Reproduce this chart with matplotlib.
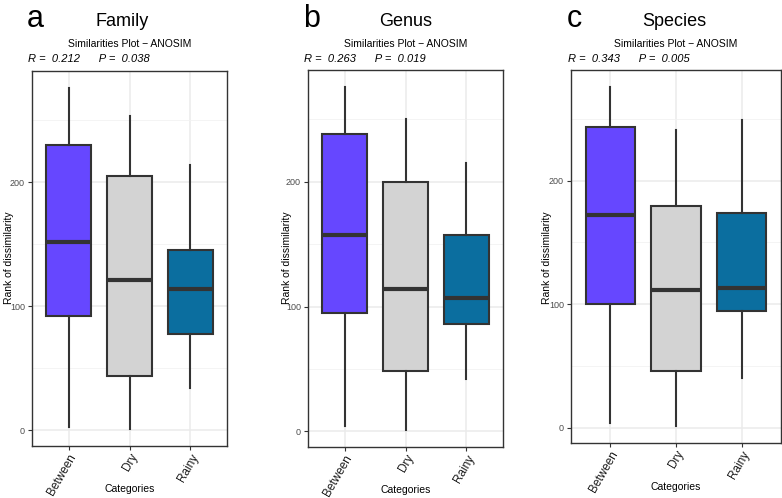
import numpy as np
import matplotlib
matplotlib.use("Agg")
from matplotlib import pyplot as plt

plt.rcParams['font.family'] = ['Liberation Sans', 'DejaVu Sans']

categories = ['Between', 'Dry', 'Rainy']
box_colors = ['#6647FF', '#D3D3D3', '#0B6E9F']

panel_letters = ['a', 'b', 'c']
panel_titles = ['Family', 'Genus', 'Species']
r_values = ['0.212', '0.263', '0.343']
p_values = ['0.038', '0.019', '0.005']

# per panel: [whislo, q1, med, q3, whishi] for Between, Dry, Rainy
family_stats = [[3, 92, 152, 230, 276], [1, 44, 121, 205, 253], [34, 78, 114, 145, 214]]
genus_stats = [[4, 95, 157, 238, 276], [1, 48, 114, 200, 250], [42, 86, 107, 157, 215]]
species_stats = [[4, 100, 172, 243, 276], [1, 46, 111, 179, 241], [40, 94, 113, 174, 249]]
all_stats = [family_stats, genus_stats, species_stats]

W, H = 782, 498
# axes boxes in pixels: left, right, top, bottom
ax_px = [(32, 227, 71, 446), (308, 503, 70, 447), (571, 781, 70, 443)]
title_x = [122, 406, 674]
letter_x = [27, 303, 567]
ylabel_x = [9, 287, 547]
xlabel_y = [489, 490, 487]

fig = plt.figure(figsize=(W / 100, H / 100), dpi=100)

for i in range(3):
    l, r, t, b = ax_px[i]
    ax = fig.add_axes([l / W, 1 - b / H, (r - l) / W, (b - t) / H])
    stats = []
    for j, s in enumerate(all_stats[i]):
        stats.append(dict(whislo=s[0], q1=s[1], med=s[2], q3=s[3], whishi=s[4], fliers=[], label=categories[j]))
    bp = ax.bxp(stats, positions=[1, 2, 3], widths=0.75, patch_artist=True, showcaps=False,
                boxprops=dict(edgecolor='#333333', linewidth=1.5),
                whiskerprops=dict(color='#333333', linewidth=1.5),
                medianprops=dict(color='#333333', linewidth=3), zorder=3)
    for patch, c in zip(bp['boxes'], box_colors):
        patch.set_facecolor(c)

    ax.set_xlim(0.4, 3.6)
    ax.set_ylim(-12.5, 289.5)
    ax.set_yticks([0, 100, 200])
    ax.set_yticks([50, 150, 250], minor=True)
    ax.grid(True, which='major', color='#EBEBEB', linewidth=1.1, zorder=0)
    ax.grid(True, which='minor', axis='y', color='#F2F2F2', linewidth=0.6, zorder=0)
    ax.set_axisbelow(True)
    ax.tick_params(which='minor', length=0)
    ax.tick_params(which='major', length=3, color='#333333', width=0.8, labelsize=6.5,
                   labelcolor='#4D4D4D', pad=2)
    ax.tick_params(axis='x', pad=1)
    ax.set_xticks([1, 2, 3])
    ax.set_xticklabels(categories, rotation=60, ha='right', va='top', rotation_mode='anchor',
                       fontsize=8.5, color='#1A1A1A')
    for sp in ax.spines.values():
        sp.set_color('#333333')
        sp.set_linewidth(1.0)

    fig.text((l + r) / 2 / W, 1 - xlabel_y[i] / H, 'Categories', fontsize=7.5,
             ha='center', va='center')
    fig.text(ylabel_x[i] / W, 1 - 258 / H, 'Rank of dissimilarity', rotation=90,
             fontsize=7.5, ha='center', va='center')
    fig.text(letter_x[i] / W, 1 - 19 / H, panel_letters[i], fontsize=22, ha='left', va='center')
    fig.text(title_x[i] / W, 1 - 21 / H, panel_titles[i], fontsize=13, ha='center', va='center')
    fig.text((l + r) / 2 / W, 1 - 44 / H, 'Similarities Plot \u2212 ANOSIM', fontsize=7.5,
             ha='center', va='center')
    fig.text((letter_x[i] + 1) / W, 1 - 59 / H, 'R =  ' + r_values[i] + '      P =  ' + p_values[i],
             fontsize=8, style='italic', ha='left', va='center')

fig.savefig('out.png', dpi=100)
